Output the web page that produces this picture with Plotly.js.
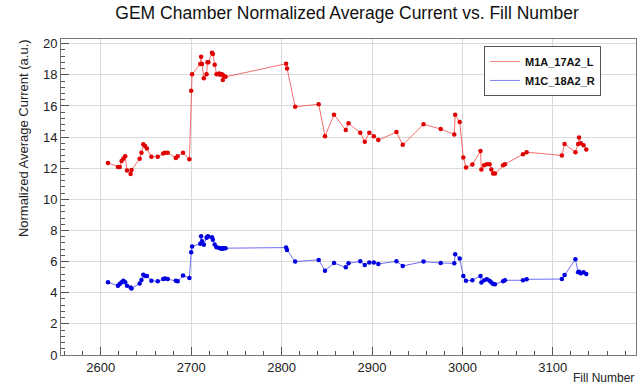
<!DOCTYPE html>
<html>
<head>
<meta charset="utf-8">
<script src="https://cdn.plot.ly/plotly-3.0.1.min.js"></script>
<style>html,body{margin:0;padding:0;background:#fff;}</style>
</head>
<body>
<div id="chart" style="width:644px;height:385px;"></div>
<script>
// Fill numbers (shared by both series)
const fillNumbers = [
  2608, 2619, 2621, 2623, 2625, 2627, 2629, 2633, 2634, 2643, 2645, 2647, 2649, 2651, 2656, 2663, 2669, 2671, 2674, 2683, 2685, 2691, 2698,
  2700, 2701, 2710, 2711, 2712, 2714, 2717, 2718, 2719, 2723, 2724, 2726, 2728, 2731, 2732, 2734, 2735, 2736, 2738,
  2805, 2806, 2815, 2841, 2848, 2858, 2871, 2874, 2887, 2892, 2897, 2902, 2907, 2927, 2934, 2957, 2976, 2991, 2992, 2997,
  3001, 3004, 3011, 3020, 3021, 3024, 3027, 3030, 3032, 3034, 3036, 3045, 3047, 3067, 3071, 3110, 3113, 3125, 3128, 3129, 3131, 3134, 3137
];
// M1A_17A2_L normalized average current
const m1aValues = [
  12.33, 12.07, 12.07, 12.46, 12.60, 12.77, 11.85, 11.63, 11.89, 12.60, 12.99, 13.54, 13.43, 13.27, 12.73, 12.73, 12.95, 12.99, 12.99, 12.66, 12.77, 12.99, 12.57,
  16.97, 18.04, 18.69, 19.16, 18.69, 17.78, 18.04, 18.80, 18.80, 19.42, 19.33, 18.65, 18.04, 18.09, 18.00, 18.04, 17.66, 17.94, 17.87,
  18.71, 18.41, 15.94, 16.11, 14.06, 15.44, 14.45, 14.88, 14.28, 13.70, 14.28, 14.06, 13.81, 14.32, 13.50, 14.82, 14.52, 14.17, 15.44, 14.97,
  12.69, 12.04, 12.24, 13.10, 11.91, 12.19, 12.26, 12.26, 11.91, 11.66, 11.66, 12.19, 12.26, 12.90, 13.03, 12.82, 13.55, 13.03, 13.55, 13.98, 13.60, 13.48, 13.20
];
// M1C_18A2_R normalized average current
const m1cValues = [
  4.67, 4.45, 4.56, 4.67, 4.77, 4.67, 4.45, 4.33, 4.28, 4.60, 4.82, 5.16, 5.08, 5.08, 4.77, 4.73, 4.88, 4.92, 4.88, 4.77, 4.73, 5.10, 4.95,
  6.60, 6.97, 7.14, 7.63, 7.31, 7.08, 7.53, 7.61, 7.61, 7.57, 7.40, 7.10, 6.92, 6.88, 6.86, 6.82, 6.84, 6.86, 6.86,
  6.90, 6.75, 6.00, 6.11, 5.42, 5.91, 5.63, 5.89, 6.02, 5.78, 5.94, 5.94, 5.85, 6.02, 5.72, 6.00, 5.91, 5.89, 6.47, 6.20,
  5.08, 4.77, 4.80, 5.08, 4.65, 4.80, 4.86, 4.77, 4.65, 4.56, 4.54, 4.73, 4.80, 4.80, 4.86, 4.88, 5.14, 6.15, 5.31, 5.35, 5.25, 5.31, 5.20
];
const seriesNames = ["M1A_17A2_L", "M1C_18A2_R"];

const font = "Liberation Sans, Arial, Helvetica, sans-serif";
const traces = [
  {x: fillNumbers, y: m1aValues, mode: "lines+markers", showlegend: false,
   line: {color: "rgba(240,40,40,0.85)", width: 0.8}, marker: {color: "#e00000", size: 4.5}},
  {x: fillNumbers, y: m1cValues, mode: "lines+markers", showlegend: false,
   line: {color: "rgba(40,40,240,0.85)", width: 0.8}, marker: {color: "#0000e0", size: 4.5}},
  {x: [null], y: [null], mode: "lines", name: seriesNames[0], line: {color: "#f08080", width: 1}},
  {x: [null], y: [null], mode: "lines", name: seriesNames[1], line: {color: "#8080f0", width: 1}}
];

const axisCommon = {
  ticks: "inside", ticklen: 8, tickcolor: "#555", tickwidth: 1,
  showgrid: true, gridcolor: "#dadada", gridwidth: 1,
  showline: true, mirror: true, linecolor: "#777", linewidth: 1,
  zeroline: false, tickfont: {family: font, size: 13, color: "#222"}
};

const layout = {
  width: 644, height: 385,
  margin: {l: 61, r: 8, t: 39, b: 30},
  paper_bgcolor: "#fff", plot_bgcolor: "#fff",
  title: {text: "GEM Chamber Normalized Average Current vs. Fill Number",
          font: {family: font, size: 17.5, color: "#111"}, x: 0.539, xanchor: "center", y: 0.967, yanchor: "middle"},
  xaxis: Object.assign({}, axisCommon, {range: [2556, 3192], dtick: 100, tick0: 2600,
    minor: {dtick: 20, ticks: "inside", ticklen: 4, tickcolor: "#555", showgrid: false}}),
  yaxis: Object.assign({}, axisCommon, {range: [0, 20.3], dtick: 2, tick0: 0,
    minor: {dtick: 0.4, ticks: "inside", ticklen: 4, tickcolor: "#555", showgrid: false}}),
  showlegend: true,
  legend: {x: 0.7357, y: 0.978, xanchor: "left", yanchor: "top",
    bgcolor: "#fff", bordercolor: "#555", borderwidth: 1,
    font: {family: font, size: 11, color: "#111", weight: "bold"}},
  annotations: [
    {text: "Normalized Average Current (a.u.)", textangle: -90, xref: "paper", yref: "paper",
     x: 0, y: 1.006, xanchor: "center", yanchor: "top", xshift: -38, showarrow: false,
     font: {family: font, size: 13, color: "#222"}},
    {text: "Fill Number", xref: "paper", yref: "paper", x: 1, y: -0.073,
     xanchor: "right", yanchor: "middle", showarrow: false,
     font: {family: font, size: 12, color: "#222"}}
  ]
};

Plotly.newPlot("chart", traces, layout, {staticPlot: true, displayModeBar: false});
</script>
</body>
</html>
